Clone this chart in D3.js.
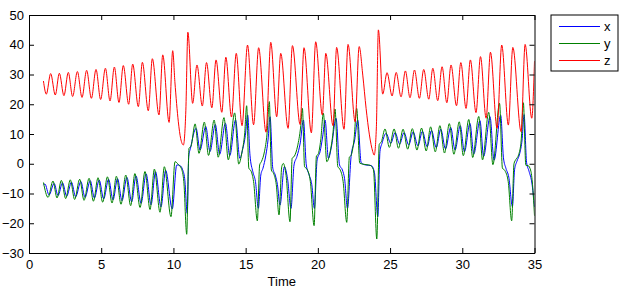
<!DOCTYPE html>
<html>
<head>
<meta charset="utf-8">
<script src="https://cdn.jsdelivr.net/npm/d3@7"></script>
<style>
  body { margin: 0; background: #fff; }
  svg { display: block; font-family: "Liberation Sans", Arial, sans-serif; }
</style>
</head>
<body>
<div id="chart"></div>
<script>
// [time, value] pairs
const xPoints = [
  [1.0,-7.2],[1.10,-6.8],[1.39,-10.5],[1.74,-6.6],[2.01,-10.7],[2.32,-6.4],[2.61,-10.9],[2.94,-6.2],
  [3.23,-11.1],[3.59,-6.0],[3.88,-11.3],[4.24,-5.7],[4.53,-11.5],[4.86,-5.5],[5.17,-11.8],[5.51,-5.2],
  [5.82,-12.1],[6.13,-5.0],[6.44,-12.4],[6.78,-4.6],[7.11,-12.8],[7.41,-4.1],[7.76,-13.3],[8.11,-3.4],
  [8.45,-13.8],[8.76,-2.7],[9.14,-14.5],[9.46,-2.2],[9.92,-15.2],[10.23,-0.4],[10.45,-0.6],[10.62,-1.8],
  [10.78,-5.0],[10.96,-16.7],[11.06,2.4],[11.18,5.2],[11.57,11.9],[11.84,4.6],[12.24,12.5],[12.53,4.1],
  [12.90,13.2],[13.20,3.2],[13.60,13.6],[13.90,2.7],[14.30,14.7],[14.60,1.8],[14.80,5.0],[14.98,9.5],
  [15.14,16.4],[15.30,2.9],[15.50,-2.7],[15.68,-6.0],[15.88,-15.0],[16.05,-3.8],[16.20,-1.5],[16.40,2.9],
  [16.55,8.0],[16.69,15.8],[16.88,-1.5],[17.05,-3.8],[17.20,-7.0],[17.38,-13.9],[17.68,-1.0],[17.90,-5.0],
  [18.14,-15.0],[18.35,-0.4],[18.55,2.4],[18.78,7.0],[19.00,14.7],[19.20,-0.4],[19.40,-3.8],[19.58,-7.0],
  [19.76,-15.0],[19.95,1.3],[20.15,4.0],[20.33,9.0],[20.50,14.7],[20.73,1.8],[20.95,6.0],[21.26,15.3],
  [21.50,-0.4],[21.70,-2.1],[21.85,-5.0],[22.05,-15.0],[22.30,2.4],[22.55,8.0],[22.76,14.7],[23.00,0.3],
  [23.30,-0.4],[23.70,-0.6],[23.92,-3.0],[24.15,-17.8],[24.30,4.1],[24.45,7.0],[24.72,10.2],
  [25.05,6.9],[25.35,10.5],[25.66,6.6],[25.97,10.5],[26.29,6.3],[26.60,10.7],[26.93,6.0],[27.24,10.9],
  [27.57,5.7],[27.87,11.2],[28.20,5.4],[28.51,11.6],[28.84,5.0],[29.20,12.2],[29.50,4.6],[29.86,12.8],
  [30.15,4.0],[30.53,13.6],[30.80,3.3],[31.22,14.5],[31.48,2.5],[31.92,15.8],[32.20,1.2],[32.66,16.3],
  [32.85,2.0],[33.02,-1.5],[33.22,-4.5],[33.47,-14.4],[33.62,-2.0],[33.78,0.8],[33.98,3.5],[34.14,8.0],
  [34.28,16.5],[34.45,0.5],[34.62,-2.5],[34.82,-6.5],[35.0,-14.5]
];

const yPoints = [
  [1.0,-6.3],[1.32,-11.3],[1.66,-5.8],[1.94,-11.5],[2.24,-5.6],[2.54,-11.7],[2.86,-5.4],[3.16,-12.0],
  [3.51,-5.2],[3.81,-12.3],[4.16,-4.9],[4.46,-12.6],[4.78,-4.7],[5.10,-12.9],[5.43,-4.4],[5.75,-13.2],
  [6.05,-4.2],[6.37,-13.6],[6.70,-3.8],[7.04,-14.1],[7.33,-3.3],[7.69,-14.7],[8.03,-2.6],[8.38,-15.4],
  [8.68,-1.8],[9.07,-16.3],[9.37,-1.0],[9.83,-17.8],[10.11,0.7],[10.35,-0.3],[10.55,-1.6],[10.72,-6.0],
  [10.92,-23.7],[11.03,-1.0],[11.08,5.2],[11.22,5.9],[11.50,13.4],[11.77,3.5],[12.14,14.0],[12.43,2.8],
  [12.82,14.7],[13.10,2.2],[13.50,15.5],[13.80,1.3],[14.24,17.1],[14.52,-0.1],[14.75,4.0],[14.93,10.0],
  [15.07,19.5],[15.22,-1.5],[15.38,-2.5],[15.55,-6.0],[15.81,-19.2],[15.97,-0.4],[16.10,0.8],[16.30,4.0],
  [16.48,10.0],[16.64,20.9],[16.78,-2.1],[16.95,-3.4],[17.12,-7.0],[17.31,-17.2],[17.50,-1.0],[17.61,0.1],
  [17.80,-4.0],[18.07,-19.5],[18.22,1.8],[18.38,2.6],[18.60,6.0],[18.80,12.0],[18.93,18.6],[19.08,-1.0],
  [19.25,-1.8],[19.48,-6.0],[19.74,-20.8],[19.90,2.6],[20.02,3.2],[20.20,8.0],[20.38,17.0],[20.62,0.7],
  [20.85,4.0],[21.05,10.5],[21.19,18.4],[21.38,-1.0],[21.52,-1.8],[21.75,-6.0],[22.00,-19.7],[22.18,2.2],
  [22.30,2.8],[22.50,8.0],[22.69,18.6],[22.90,0.2],[23.20,-0.2],[23.60,-0.5],[23.85,-2.0],[24.08,-25.3],
  [24.25,6.5],[24.40,7.4],[24.65,11.7],
  [24.95,5.5],[25.28,11.7],[25.58,5.2],[25.90,11.6],[26.22,4.9],[26.54,11.8],[26.86,4.6],[27.18,12.0],
  [27.50,4.3],[27.81,12.4],[28.13,4.0],[28.45,12.8],[28.77,3.6],[29.10,13.5],[29.42,3.2],[29.79,14.1],
  [30.07,2.7],[30.45,14.9],[30.72,2.1],[31.14,15.9],[31.40,1.3],[31.83,17.3],[32.12,-0.3],[32.58,20.3],
  [32.78,-1.5],[32.95,-2.3],[33.18,-6.0],[33.42,-19.2],[33.58,0.0],[33.72,1.5],[33.90,3.0],[34.08,8.0],
  [34.23,20.5],[34.40,-0.5],[34.55,-0.6],[34.75,-2.5],[34.88,-8.0],[35.0,-17.5]
];

const zPoints = [
  [1.0,27.8],[1.20,23.4],[1.50,30.3],[1.82,23.1],[2.10,30.4],[2.42,22.9],[2.72,30.7],[3.02,22.6],
  [3.35,31.0],[3.67,22.3],[3.99,31.4],[4.32,22.0],[4.64,31.7],[4.96,21.6],[5.29,32.1],[5.61,21.1],
  [5.91,32.5],[6.23,20.6],[6.53,33.0],[6.90,20.0],[7.18,33.5],[7.57,19.2],[7.85,34.1],[8.26,17.8],
  [8.54,35.3],[9.00,16.4],[9.26,36.6],[9.70,13.9],[9.95,38.0],[10.10,27.6],[10.34,14.1],[10.50,8.5],
  [10.69,6.3],[10.86,18.0],[11.00,44.2],[11.33,20.3],[11.63,33.2],[12.00,19.4],[12.29,34.0],[12.66,18.8],
  [12.95,34.9],[13.35,17.3],[13.63,35.8],[14.02,15.7],[14.35,37.1],[14.75,12.8],[15.13,39.9],[15.55,13.1],
  [15.90,39.0],[16.41,10.6],[16.74,40.8],[17.15,15.8],[17.43,37.1],[17.94,11.9],[18.24,39.7],[18.77,13.2],
  [19.04,39.0],[19.55,10.4],[19.85,41.0],[20.31,16.4],[20.55,37.1],[21.05,12.8],[21.30,39.1],[21.81,11.6],
  [22.09,40.1],[22.58,14.1],[22.86,39.4],[23.11,29.8],[23.34,18.6],[23.57,9.7],[23.80,4.1],[23.90,2.9],
  [24.05,12.0],[24.19,45.0],[24.49,23.4],[24.79,30.6],[25.14,22.8],[25.42,30.7],[25.76,22.5],[26.06,31.2],
  [26.38,22.2],[26.69,31.5],[27.03,22.0],[27.33,31.7],[27.68,21.7],[27.96,32.1],[28.30,21.2],[28.60,32.6],
  [28.93,20.5],[29.22,33.2],[29.60,19.5],[29.90,34.0],[30.26,18.6],[30.56,34.9],[30.95,17.2],[31.26,36.0],
  [31.65,15.3],[31.95,37.5],[32.41,11.9],[32.73,39.9],[33.19,13.0],[33.50,39.1],[34.07,10.8],[34.35,40.1],
  [34.81,15.3],[35.0,34.5]
];

const seriesNames = ["x", "y", "z"];
const seriesColors = ["#0000ff", "#008000", "#ff0000"];
const xTicks = [0, 5, 10, 15, 20, 25, 30, 35];
const yTicks = [-30, -20, -10, 0, 10, 20, 30, 40, 50];
const xLabel = "Time";

const width = 623, height = 291;
const plot = { left: 29, right: 534.5, top: 15, bottom: 253 };

const svg = d3.select("#chart").append("svg")
    .attr("width", width)
    .attr("height", height);

svg.append("rect").attr("width", width).attr("height", height).attr("fill", "#fff");

const scaleX = d3.scaleLinear().domain([0, 35]).range([plot.left, plot.right]);
const scaleY = d3.scaleLinear().domain([-30, 50]).range([plot.bottom, plot.top]);

svg.append("clipPath").attr("id", "clip")
  .append("rect")
    .attr("x", plot.left).attr("y", plot.top)
    .attr("width", plot.right - plot.left).attr("height", plot.bottom - plot.top);

const line = d3.line()
    .x((d) => scaleX(d[0]))
    .y((d) => scaleY(d[1]))
    .curve(d3.curveMonotoneX);

const series = [xPoints, yPoints, zPoints];

svg.append("g").attr("clip-path", "url(#clip)")
  .selectAll("path")
  .data(series)
  .join("path")
    .attr("d", line)
    .attr("fill", "none")
    .attr("stroke", (d, i) => seriesColors[i])
    .attr("stroke-width", 1)
    .attr("stroke-linejoin", "round");

// axes, ticks inside on all four sides
const fontSize = 13;
const styleAxis = (g) => {
  g.selectAll(".domain").attr("stroke", "#000");
  g.selectAll(".tick line").attr("stroke", "#000");
  g.selectAll("text").attr("font-size", fontSize).attr("fill", "#000")
    .attr("font-family", "'Liberation Sans', Arial, sans-serif");
};

svg.append("g")
    .attr("transform", `translate(0,${plot.bottom})`)
    .call(d3.axisBottom(scaleX).tickValues(xTicks).tickSizeInner(-5).tickSizeOuter(0).tickPadding(7))
    .call(styleAxis);

svg.append("g")
    .attr("transform", `translate(0,${plot.top})`)
    .call(d3.axisTop(scaleX).tickValues(xTicks).tickSizeInner(-5).tickSizeOuter(0).tickFormat(""))
    .call(styleAxis);

svg.append("g")
    .attr("transform", `translate(${plot.left},0)`)
    .call(d3.axisLeft(scaleY).tickValues(yTicks).tickSizeInner(-5).tickSizeOuter(0).tickPadding(5))
    .call(styleAxis);

svg.append("g")
    .attr("transform", `translate(${plot.right},0)`)
    .call(d3.axisRight(scaleY).tickValues(yTicks).tickSizeInner(-5).tickSizeOuter(0).tickFormat(""))
    .call(styleAxis);

svg.append("text")
    .attr("x", (plot.left + plot.right) / 2)
    .attr("y", 286)
    .attr("text-anchor", "middle")
    .attr("font-size", fontSize)
    .text(xLabel);

// legend
const legend = svg.append("g").attr("transform", "translate(551,15)");
legend.append("rect")
    .attr("width", 67).attr("height", 56)
    .attr("fill", "#fff").attr("stroke", "#000");

const rows = legend.selectAll("g.row")
  .data(seriesNames)
  .join("g")
    .attr("class", "row")
    .attr("transform", (d, i) => `translate(0,${11.5 + i * 17})`);

rows.append("line")
    .attr("x1", 8).attr("x2", 49)
    .attr("stroke", (d, i) => seriesColors[i])
    .attr("stroke-width", 1);

rows.append("text")
    .attr("x", 53)
    .attr("dy", "0.32em")
    .attr("font-size", fontSize)
    .text((d) => d);
</script>
</body>
</html>
